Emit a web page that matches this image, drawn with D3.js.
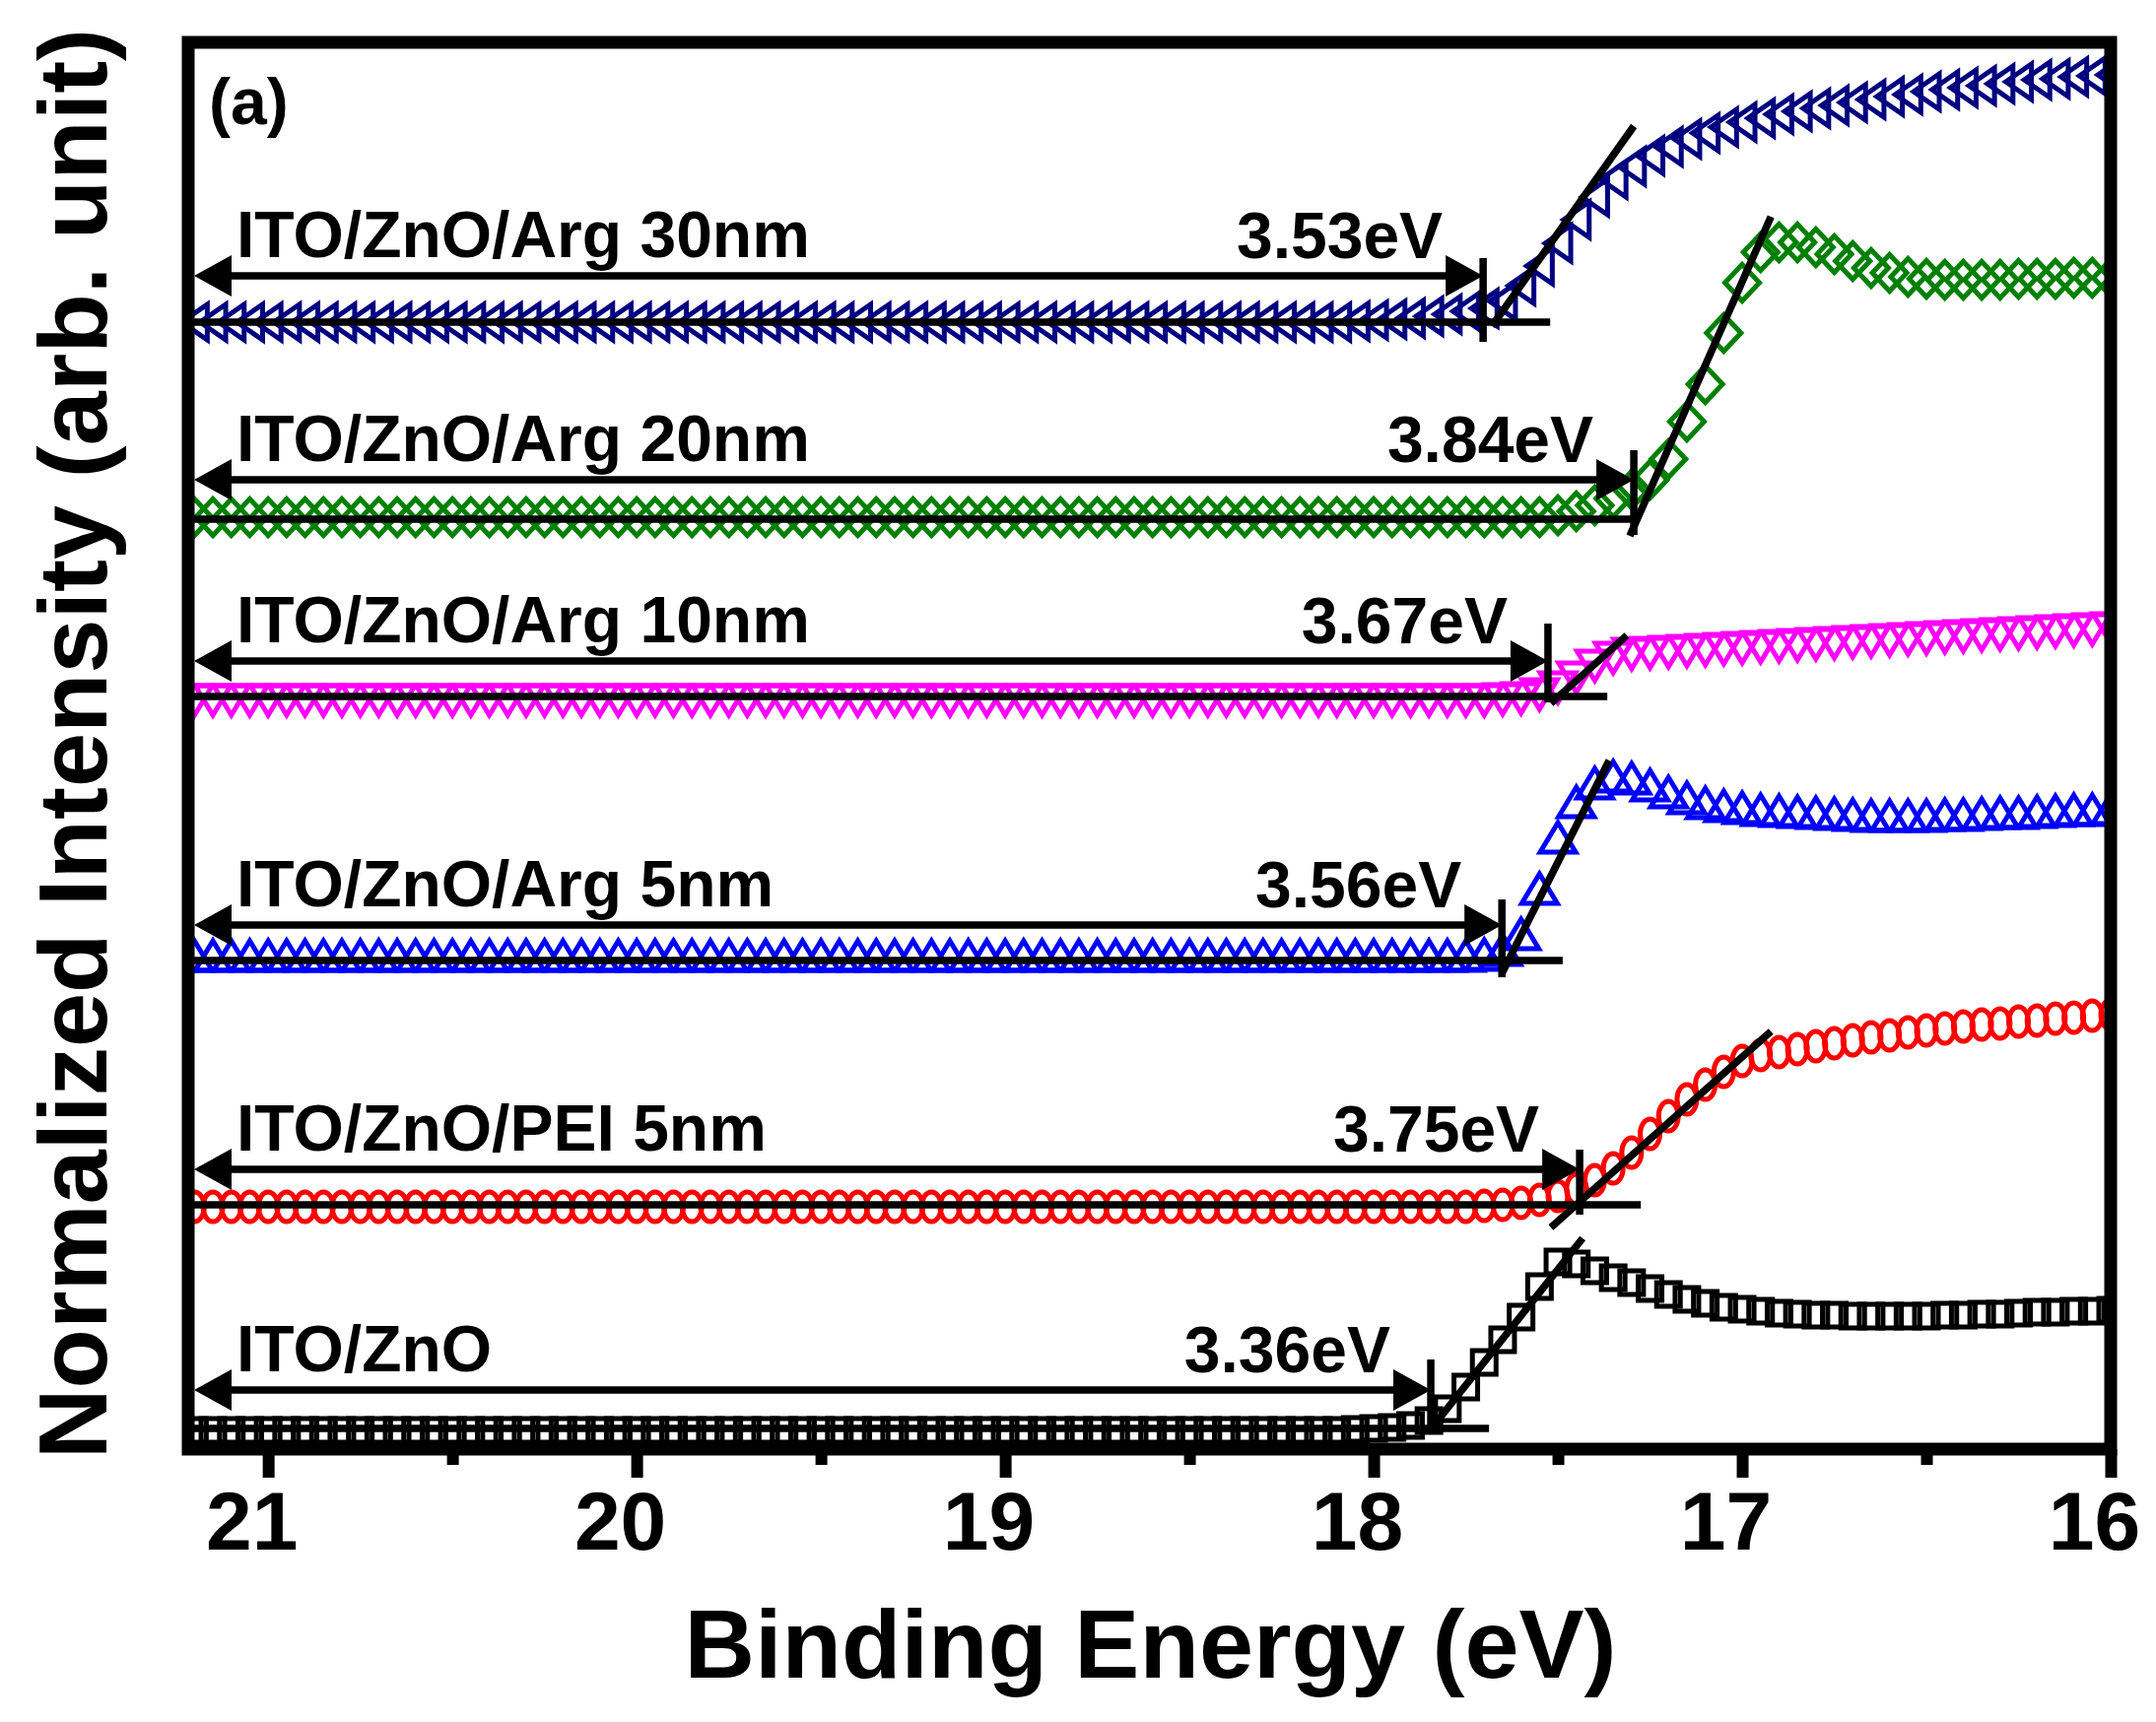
<!DOCTYPE html>
<html><head><meta charset="utf-8">
<script src="https://cdn.jsdelivr.net/npm/d3@7"></script>
<style>html,body{margin:0;padding:0;background:#fff;} svg{display:block;}</style>
</head><body>
<script>
// ---------- DATA ----------
const energies = [
21.25,21.2,21.15,21.1,21.05,21,20.95,20.9,20.85,20.8,
20.75,20.7,20.65,20.6,20.55,20.5,20.45,20.4,20.35,20.3,
20.25,20.2,20.15,20.1,20.05,20,19.95,19.9,19.85,19.8,
19.75,19.7,19.65,19.6,19.55,19.5,19.45,19.4,19.35,19.3,
19.25,19.2,19.15,19.1,19.05,19,18.95,18.9,18.85,18.8,
18.75,18.7,18.65,18.6,18.55,18.5,18.45,18.4,18.35,18.3,
18.25,18.2,18.15,18.1,18.05,18,17.95,17.9,17.85,17.8,
17.75,17.7,17.65,17.6,17.55,17.5,17.45,17.4,17.35,17.3,
17.25,17.2,17.15,17.1,17.05,17,16.95,16.9,16.85,16.8,
16.75,16.7,16.65,16.6,16.55,16.5,16.45,16.4,16.35,16.3,
16.25,16.2,16.15,16.1,16.05,16];

const ito_zno = [
0.19,0.19,0.19,0.19,0.19,0.19,0.19,0.19,0.19,0.19,
0.19,0.19,0.19,0.19,0.19,0.19,0.19,0.19,0.19,0.19,
0.19,0.19,0.19,0.19,0.19,0.19,0.19,0.19,0.19,0.19,
0.19,0.19,0.19,0.19,0.19,0.19,0.19,0.19,0.19,0.19,
0.19,0.19,0.19,0.19,0.19,0.19,0.19,0.19,0.19,0.19,
0.19,0.19,0.19,0.19,0.19,0.19,0.19,0.19,0.19,0.19,
0.19,0.19,0.19,0.19,0.20,0.21,0.22,0.24,0.29,0.41,
0.63,0.88,1.11,1.34,1.65,1.90,1.88,1.81,1.74,1.69,
1.63,1.57,1.52,1.48,1.44,1.42,1.40,1.38,1.37,1.36,
1.36,1.35,1.35,1.35,1.35,1.35,1.36,1.36,1.37,1.37,
1.38,1.39,1.39,1.40,1.40,1.41];

const ito_zno_pei5 = [
2.46,2.46,2.46,2.46,2.46,2.46,2.46,2.46,2.46,2.46,
2.46,2.46,2.46,2.46,2.46,2.46,2.46,2.46,2.46,2.46,
2.46,2.46,2.46,2.46,2.46,2.46,2.46,2.46,2.46,2.46,
2.46,2.46,2.46,2.46,2.46,2.46,2.46,2.46,2.46,2.46,
2.46,2.46,2.46,2.46,2.46,2.46,2.46,2.46,2.46,2.46,
2.46,2.46,2.46,2.46,2.46,2.46,2.46,2.46,2.46,2.46,
2.46,2.46,2.46,2.46,2.46,2.46,2.46,2.46,2.46,2.46,
2.46,2.47,2.48,2.50,2.53,2.57,2.64,2.73,2.85,3.01,
3.20,3.38,3.55,3.70,3.83,3.94,4.00,4.03,4.06,4.09,
4.12,4.15,4.18,4.20,4.23,4.25,4.27,4.29,4.31,4.32,
4.34,4.35,4.37,4.38,4.40,4.41];

const ito_zno_arg5 = [
5.01,5.01,5.01,5.01,5.01,5.01,5.01,5.01,5.01,5.01,
5.01,5.01,5.01,5.01,5.01,5.01,5.01,5.01,5.01,5.01,
5.01,5.01,5.01,5.01,5.01,5.01,5.01,5.01,5.01,5.01,
5.01,5.01,5.01,5.01,5.01,5.01,5.01,5.01,5.01,5.01,
5.01,5.01,5.01,5.01,5.01,5.01,5.01,5.01,5.01,5.01,
5.01,5.01,5.01,5.01,5.01,5.01,5.01,5.01,5.01,5.01,
5.01,5.01,5.01,5.01,5.01,5.01,5.01,5.01,5.01,5.01,
5.01,5.02,5.07,5.23,5.69,6.21,6.57,6.76,6.83,6.81,
6.74,6.67,6.61,6.56,6.53,6.51,6.49,6.48,6.47,6.46,
6.45,6.44,6.43,6.43,6.43,6.43,6.44,6.44,6.45,6.46,
6.46,6.47,6.48,6.49,6.49,6.50];

const ito_zno_arg10 = [
7.60,7.60,7.60,7.60,7.60,7.60,7.60,7.60,7.60,7.60,
7.60,7.60,7.60,7.60,7.60,7.60,7.60,7.60,7.60,7.60,
7.60,7.60,7.60,7.60,7.60,7.60,7.60,7.60,7.60,7.60,
7.60,7.60,7.60,7.60,7.60,7.60,7.60,7.60,7.60,7.60,
7.60,7.60,7.60,7.60,7.60,7.60,7.60,7.60,7.60,7.60,
7.60,7.60,7.60,7.60,7.60,7.60,7.60,7.60,7.60,7.60,
7.60,7.60,7.60,7.60,7.60,7.60,7.60,7.60,7.60,7.60,
7.60,7.60,7.61,7.62,7.66,7.73,7.83,7.95,8.03,8.07,
8.08,8.09,8.10,8.11,8.12,8.13,8.14,8.15,8.16,8.17,
8.18,8.19,8.20,8.21,8.22,8.23,8.24,8.25,8.26,8.27,
8.28,8.29,8.30,8.31,8.32,8.33];

const ito_zno_arg20 = [
9.46,9.46,9.46,9.46,9.46,9.46,9.46,9.46,9.46,9.46,
9.46,9.46,9.46,9.46,9.46,9.46,9.46,9.46,9.46,9.46,
9.46,9.46,9.46,9.46,9.46,9.46,9.46,9.46,9.46,9.46,
9.46,9.46,9.46,9.46,9.46,9.46,9.46,9.46,9.46,9.46,
9.46,9.46,9.46,9.46,9.46,9.46,9.46,9.46,9.46,9.46,
9.46,9.46,9.46,9.46,9.46,9.46,9.46,9.46,9.46,9.46,
9.46,9.46,9.46,9.46,9.46,9.46,9.46,9.46,9.46,9.46,
9.46,9.46,9.46,9.46,9.46,9.48,9.52,9.58,9.65,9.74,
9.84,10.05,10.43,10.81,11.33,11.84,12.15,12.25,12.25,12.20,
12.13,12.06,11.99,11.94,11.90,11.88,11.87,11.87,11.87,11.87,
11.88,11.88,11.88,11.89,11.89,11.89];

const ito_zno_arg30 = [
11.44,11.44,11.44,11.44,11.44,11.44,11.44,11.44,11.44,11.44,
11.44,11.44,11.44,11.44,11.44,11.44,11.44,11.44,11.44,11.44,
11.44,11.44,11.44,11.44,11.44,11.44,11.44,11.44,11.44,11.44,
11.44,11.44,11.44,11.44,11.44,11.44,11.44,11.44,11.44,11.44,
11.44,11.44,11.44,11.44,11.44,11.44,11.44,11.44,11.44,11.44,
11.44,11.44,11.44,11.44,11.44,11.44,11.44,11.44,11.44,11.44,
11.44,11.44,11.44,11.44,11.45,11.46,11.47,11.48,11.50,11.52,
11.55,11.58,11.65,11.81,12.01,12.24,12.48,12.71,12.89,13.02,
13.13,13.22,13.30,13.36,13.42,13.47,13.51,13.55,13.58,13.61,
13.64,13.67,13.70,13.73,13.75,13.78,13.80,13.82,13.84,13.86,
13.88,13.90,13.91,13.93,13.94,13.95];

const seriesLabels = ["ITO/ZnO","ITO/ZnO/PEI 5nm","ITO/ZnO/Arg 5nm","ITO/ZnO/Arg 10nm","ITO/ZnO/Arg 20nm","ITO/ZnO/Arg 30nm"];
const workFunctionLabels = ["3.36eV","3.75eV","3.56eV","3.67eV","3.84eV","3.53eV"];
const seriesColors = ["#000000","#ff0000","#0000ff","#ff00ff","#008000","#000080"];
const seriesShapes = ["square","circle","triangleUp","triangleDown","diamond","triangleLeft"];
const seriesValues = [ito_zno, ito_zno_pei5, ito_zno_arg5, ito_zno_arg10, ito_zno_arg20, ito_zno_arg30];

// annotation geometry in data units (eV, arb. unit)
const onsetE   = [17.845, 17.441, 17.652, 17.527, 17.294, 17.703];
const arrowI   = [0.60, 2.84, 5.32, 8.00, 9.84, 11.91];
const tickTopI = [0.91, 3.04, 5.58, 8.38, 10.14, 12.09];
const tickBotI = [0.24, 2.38, 4.79, 7.58, 9.28, 11.24];
const baseI    = [0.21, 2.48, 4.96, 7.64, 9.44, 11.44];
const baseEndE = [17.687, 17.275, 17.487, 17.366, 17.283, 17.521];
const tanE1 = [17.837, 17.519, 17.652, 17.519, 17.305, 17.679];
const tanI1 = [0.24, 2.25, 4.83, 7.57, 9.27, 11.40];
const tanE2 = [17.433, 16.922, 17.361, 17.313, 16.922, 17.294];
const tanI2 = [2.14, 4.24, 6.99, 8.26, 12.51, 13.43];

const majorTicks = [21, 20, 19, 18, 17, 16];
const minorTicks = [20.5, 19.5, 18.5, 17.5, 16.5];
const xDomain = [21.217, 16];
const yDomain = [0, 14.28];

// ---------- DRAW ----------
const W = 2188, H = 1748;
const FONT = "'Liberation Sans', Arial, Helvetica, sans-serif";
const x = d3.scaleLinear().domain(xDomain).range([191, 2142]);
const y = d3.scaleLinear().domain(yDomain).range([1471, 43]);
const [x0, x1] = x.range();
const [yb, yt] = y.range();

const svg = d3.select("body").append("svg").attr("width", W).attr("height", H);
svg.append("rect").attr("width", W).attr("height", H).attr("fill", "#fff");

svg.append("clipPath").attr("id", "plotclip").append("rect")
  .attr("x", x0).attr("y", yt).attr("width", x1 - x0).attr("height", yb - yt);

function shapePath(t) {
  switch (t) {
    case "square": return "M-12,-12H12V12H-12Z";
    case "circle": return "M10,0A10,15 0 1,1 -10,0A10,15 0 1,1 10,0Z";
    case "triangleUp": return "M-18,15L18,15L0,-15Z";
    case "triangleDown": return "M-18,-15L18,-15L0,15Z";
    case "triangleLeft": return "M13,-18L13,18L-13,0Z";
    case "diamond": return "M0,-18.5L17.5,0L0,18.5L-17.5,0Z";
  }
}

// axes ticks (bottom)
const axMajor = svg.append("g").attr("transform", `translate(0,${yb})`)
  .call(d3.axisBottom(x).tickValues(majorTicks).tickSize(29).tickPadding(13).tickFormat(d3.format("d")));
axMajor.select(".domain").remove();
axMajor.selectAll(".tick line").attr("stroke", "#000").attr("stroke-width", 12);
axMajor.selectAll(".tick text").attr("font-family", FONT).attr("font-weight", "bold")
  .attr("font-size", 84).attr("fill", "#000").attr("dx", -17);

const axMinor = svg.append("g").attr("transform", `translate(0,${yb})`)
  .call(d3.axisBottom(x).tickValues(minorTicks).tickSize(16).tickFormat(""));
axMinor.select(".domain").remove();
axMinor.selectAll(".tick line").attr("stroke", "#000").attr("stroke-width", 12);

// markers
const plot = svg.append("g").attr("clip-path", "url(#plotclip)");
seriesValues.forEach((vals, s) => {
  plot.append("g").selectAll("path")
    .data(energies.map((e, i) => [e, vals[i]]))
    .join("path")
    .attr("transform", d => `translate(${x(d[0])},${y(d[1])})`)
    .attr("d", shapePath(seriesShapes[s]))
    .attr("fill", "none")
    .attr("stroke", seriesColors[s])
    .attr("stroke-width", 5);
});

// annotations
const ann = svg.append("g");
const LW = 7.5, HEAD_L = 38, HEAD_H = 21;
seriesLabels.forEach((lab, s) => {
  const ay = y(arrowI[s]);
  const xo = x(onsetE[s]);
  const tipL = x0 + 6;
  ann.append("line").attr("x1", x0).attr("x2", x(baseEndE[s]))
    .attr("y1", y(baseI[s])).attr("y2", y(baseI[s]))
    .attr("stroke", "#000").attr("stroke-width", LW);
  ann.append("line").attr("x1", x(tanE1[s])).attr("y1", y(tanI1[s]))
    .attr("x2", x(tanE2[s])).attr("y2", y(tanI2[s]))
    .attr("stroke", "#000").attr("stroke-width", LW);
  ann.append("line").attr("x1", xo).attr("x2", xo)
    .attr("y1", y(tickTopI[s])).attr("y2", y(tickBotI[s]))
    .attr("stroke", "#000").attr("stroke-width", LW);
  ann.append("line").attr("x1", tipL + HEAD_L - 2).attr("x2", xo - HEAD_L + 2)
    .attr("y1", ay).attr("y2", ay).attr("stroke", "#000").attr("stroke-width", LW);
  ann.append("path").attr("d", `M${tipL},${ay}L${tipL + HEAD_L},${ay - HEAD_H}L${tipL + HEAD_L},${ay + HEAD_H}Z`).attr("fill", "#000");
  ann.append("path").attr("d", `M${xo},${ay}L${xo - HEAD_L},${ay - HEAD_H}L${xo - HEAD_L},${ay + HEAD_H}Z`).attr("fill", "#000");
  ann.append("text").attr("x", x0 + 49).attr("y", ay - 19)
    .attr("font-family", FONT).attr("font-weight", "bold").attr("font-size", 66).text(lab);
  ann.append("text").attr("x", xo - 41).attr("y", ay - 18).attr("text-anchor", "end")
    .attr("font-family", FONT).attr("font-weight", "bold").attr("font-size", 66).text(workFunctionLabels[s]);
});

// frame
svg.append("rect").attr("x", x0).attr("y", yt).attr("width", x1 - x0).attr("height", yb - yt)
  .attr("fill", "none").attr("stroke", "#000").attr("stroke-width", 13);

// panel label
svg.append("text").attr("x", 212).attr("y", 126)
  .attr("font-family", FONT).attr("font-weight", "bold").attr("font-size", 66).text("(a)");

// axis titles
svg.append("text").attr("x", (x0 + x1) / 2 + 1).attr("y", 1703).attr("text-anchor", "middle")
  .attr("font-family", FONT).attr("font-weight", "bold").attr("font-size", 99).text("Binding Energy (eV)");
svg.append("text").attr("transform", "translate(108,755) rotate(-90)").attr("text-anchor", "middle")
  .attr("font-family", FONT).attr("font-weight", "bold").attr("font-size", 99).text("Normalized Intensity (arb. unit)");
</script>
</body></html>
